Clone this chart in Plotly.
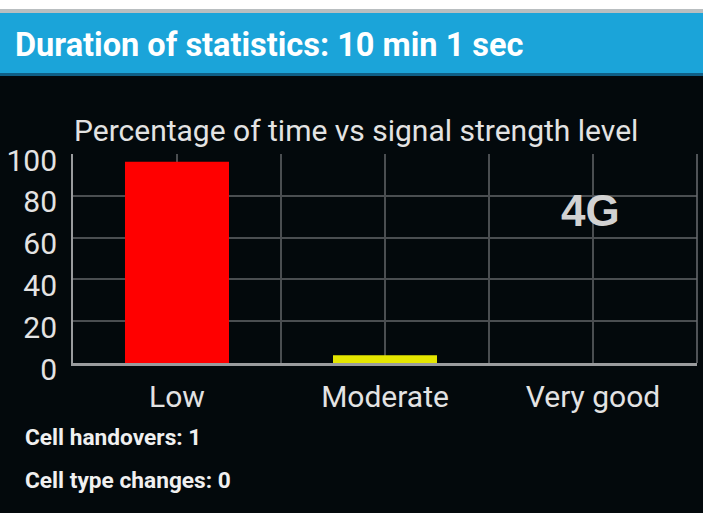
import plotly.graph_objects as go

categories = ["Low", "Moderate", "Very good"]
percentages = [96.3, 3.7, 0.0]
bar_colors = ["#FF0000", "#E5E600", "#00C000"]
y_ticks = [0, 20, 40, 60, 80, 100]

header_text = "Duration of statistics: 10 min 1 sec"
chart_title = "Percentage of time vs signal strength level"
network_label = "4G"
footer_lines = ["Cell handovers: 1", "Cell type changes: 0"]

W, H = 703, 513
BG = "#03090C"
L, R, T, B = 66, 6, 154, 150

xpos = list(range(len(categories)))
tickvals = []
ticktext = []
for i, c in enumerate(categories):
    tickvals += [i - 0.5, i]
    ticktext += ["", c]
tickvals.append(len(categories) - 0.5)
ticktext.append("")

fig = go.Figure(go.Bar(
    x=xpos, y=percentages, width=0.5,
    marker=dict(color=bar_colors, line=dict(width=0)),
    hoverinfo="skip",
))


def px_x(x):
    return (x - L) / (W - L - R)


def px_y(y):
    return (H - B - y) / (H - T - B)


def band(y_top, y_bot, color):
    return dict(type="rect", xref="paper", yref="paper", x0=px_x(-30), x1=px_x(W + 30),
                y0=px_y(y_bot), y1=px_y(y_top), fillcolor=color, line=dict(width=0), layer="below")


fig.update_layout(
    width=W, height=H,
    margin=dict(l=L, r=R, t=T, b=B, pad=0),
    paper_bgcolor=BG, plot_bgcolor=BG,
    showlegend=False,
    font=dict(family="Roboto", color="#E6E6E6"),
    xaxis=dict(
        range=[-0.5, len(categories) - 0.5],
        tickvals=tickvals, ticktext=ticktext,
        showgrid=True, gridcolor="#4A4E51", gridwidth=1.5,
        showline=True, linecolor="#9A9C9E", linewidth=2.5,
        zeroline=False, ticks="",
        tickfont=dict(size=30, color="#E3E3E3"),
        ticklabelstandoff=5,
        fixedrange=True,
    ),
    yaxis=dict(
        range=[0, 100], tickvals=y_ticks,
        showgrid=True, gridcolor="#4A4E51", gridwidth=1.5,
        showline=True, linecolor="#9A9C9E", linewidth=2,
        zeroline=False, ticks="",
        tickfont=dict(size=30, color="#E3E3E3"),
        ticklabelstandoff=8, ticklabelshift=6,
        fixedrange=True,
    ),
    shapes=[
        band(-30, 13, "#FFFFFF"),
        band(9, 13, "#B9BEC0"),
        band(13, 75, "#1BA4D9"),
        band(73, 76, "#0F5F86"),
        dict(type="line", xref="paper", yref="paper", x0=1, x1=1, y0=0, y1=1,
             line=dict(color="#6A6D70", width=1.5)),
    ],
)

ann = []
ann.append(dict(text="<b>" + header_text + "</b>", x=px_x(5), y=px_y(45), xref="paper", yref="paper",
                xanchor="left", yanchor="middle", showarrow=False,
                font=dict(family="Roboto", size=32.5, color="#FFFFFF")))
ann.append(dict(text=chart_title, x=px_x(352), y=px_y(130), xref="paper", yref="paper",
                xanchor="center", yanchor="middle", showarrow=False,
                font=dict(family="Roboto", size=30, color="#E3E3E3")))
ann.append(dict(text="<b>" + network_label + "</b>", x=px_x(589), y=px_y(210), xref="paper", yref="paper",
                xanchor="center", yanchor="middle", showarrow=False,
                font=dict(family="Liberation Sans", size=44, color="#D2D2D2")))
for i, line in enumerate(footer_lines):
    ann.append(dict(text="<b>" + line + "</b>", x=px_x(15), y=px_y(437 + 43 * i), xref="paper", yref="paper",
                    xanchor="left", yanchor="middle", showarrow=False,
                    font=dict(family="Roboto", size=22.7, color="#F0F0F0")))
fig.update_layout(annotations=ann)

fig.write_html("out.html",
               config={"displayModeBar": False, "responsive": False},
               post_script="document.body.style.margin='0';document.body.style.overflow='hidden';")
